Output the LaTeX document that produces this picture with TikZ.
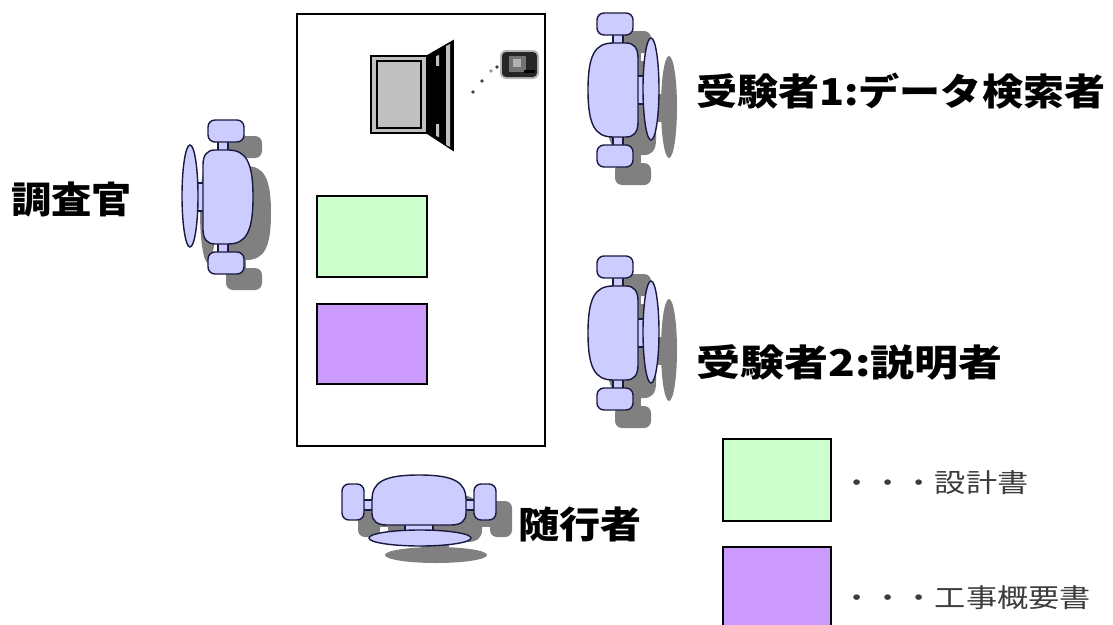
\documentclass[tikz,border=0pt]{standalone}
\usepackage{fontspec}
\newfontfamily\jpfont{Noto Sans CJK JP}

\definecolor{chairblue}{HTML}{CCCCFF}
\definecolor{chairline}{HTML}{1A1A40}
\definecolor{shadowgray}{HTML}{808080}
\definecolor{plangreen}{HTML}{CCFFCC}
\definecolor{specpurple}{HTML}{CC99FF}
\definecolor{laptopgray}{HTML}{C0C0C0}
\definecolor{legendtext}{HTML}{3C3C3C}

\tikzset{
	chair body/.style={fill=chairblue, draw=chairline, line width=1.4pt},
	chair shadow/.style={fill=shadowgray},
	doc/.style={draw=black, line width=2pt},
	who/.style={inner sep=0pt, anchor=west, font=\jpfont\bfseries\fontsize{37pt}{40pt}\selectfont},
	legend/.style={inner sep=0pt, anchor=west, text=legendtext, font=\jpfont\fontsize{26pt}{30pt}\selectfont},
	% one office chair, backrest on the +x side
	pics/chair/.style={code={
		\path[#1] (0,-56) rectangle (10,-46);
		\path[#1] (0,46) rectangle (10,56);
		\path[#1] (24,-14) rectangle (31,14);
		\path[#1, rounded corners=7pt] (-16,-77) rectangle (20,-55);
		\path[#1, rounded corners=7pt] (-16,55) rectangle (20,77);
		\path[#1] (0,-47) -- (13,-47) .. controls (21,-47) and (25,-42) .. (25,-32)
			-- (25,32) .. controls (25,42) and (21,47) .. (13,47)
			-- (0,47) .. controls (-18,47) and (-25,35) .. (-25,0)
			.. controls (-25,-35) and (-18,-47) .. (0,-47) -- cycle;
		\path[#1] (38,-1) ellipse [x radius=8, y radius=51];
	}},
}

\begin{document}
\begin{tikzpicture}[x=1pt, y=-1pt]
	\useasboundingbox (0,0) rectangle (1113,624);

	% -- Table
	\draw[line width=2.8pt] (297,14) rectangle (545,446);

	% -- Laptop
	\draw[line width=2.5pt, fill=laptopgray] (371,56) rectangle (427,133);
	\draw[line width=2pt, fill=laptopgray] (377,61) rectangle (421,128);
	\filldraw[line width=1.5pt] (427,56) -- (453,41) -- (453,150) -- (427,133) -- cycle;
	\fill[laptopgray] (446,46) -- (450,44) -- (450,147) -- (446,145) -- cycle;
	\fill[laptopgray] (436,56) -- (439,55) -- (439,137) -- (436,136) -- cycle;
	\fill (436,66) rectangle (442,124);

	% -- Camera
	\fill[black!70, opacity=0.4, rounded corners=6pt] (500,50) rectangle (539,79);
	\fill[black!85, rounded corners=4pt] (502,52) rectangle (537,77);
	\fill[black!55] (509,56) rectangle (526,72);
	\fill[black!30] (513,59) rectangle (521,67);
	\fill[black] (524,70) rectangle (535,73);
	\fill[black!75] (473,92) circle (1.8);
	\fill[black!75] (482,81) circle (1.8);
	\fill[black!40] (491,71) circle (1.8);
	\fill[black!75] (497,67) circle (1.8);

	% -- Documents on the table
	\draw[doc, fill=plangreen] (317,196) rectangle (427,277);
	\draw[doc, fill=specpurple] (317,304) rectangle (427,384);

	% -- Chairs: shadows first
	\pic[xscale=-1] at (246,213) {chair=chair shadow};
	\pic at (631,108) {chair=chair shadow};
	\pic at (631,351) {chair=chair shadow};
	\pic[rotate=-90] at (435,517) {chair=chair shadow};

	\pic[xscale=-1] at (228,197) {chair=chair body};
	\pic at (613,90) {chair=chair body};
	\pic at (613,333) {chair=chair body};
	\pic[rotate=-90] at (419,500) {chair=chair body};

	% -- People
	\node[who] (chief) at (11,200) {\scalebox{1.09}[1]{調査官}};
	\node[who] (searcher) at (696,91) {\scalebox{1.11}[1]{受験者1:データ検索者}};
	\node[who] (explainer) at (696,362) {\scalebox{1.19}[1]{受験者2:説明者}};
	\node[who] (attendant) at (518,524) {\scalebox{1.11}[1]{随行者}};

	% -- Legend
	\draw[doc, fill=plangreen] (723,439) rectangle (831,521);
	\draw[doc, fill=specpurple] (723,626) -- (723,547) -- (831,547) -- (831,626);
	\node[legend] (plan) at (841,483) {\scalebox{1.2}[1]{・・・設計書}};
	\node[legend] (outline) at (841,598) {\scalebox{1.2}[1]{・・・工事概要書}};
\end{tikzpicture}
\end{document}
